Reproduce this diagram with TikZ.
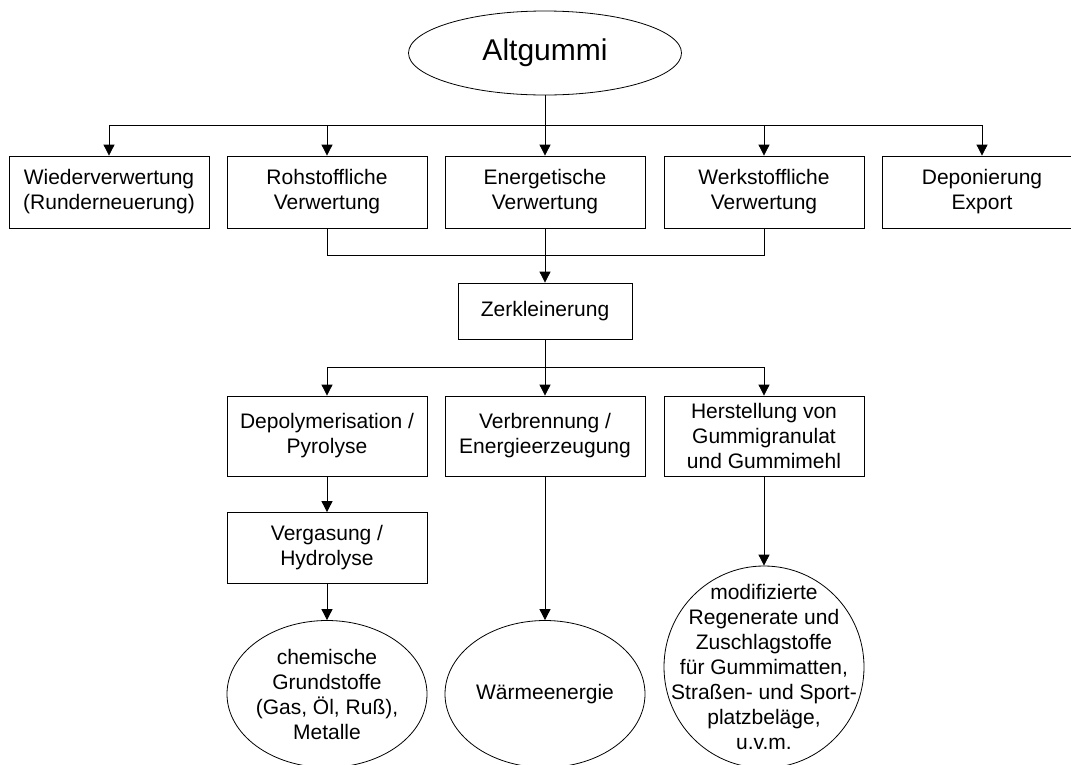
\documentclass[tikz,border=0pt]{standalone}
\usepackage{fontspec}
\setmainfont{Liberation Sans}
\usetikzlibrary{shapes.geometric,arrows.meta}

\begin{document}
\begin{tikzpicture}[x=1pt, y=-1pt, line width=0.8pt, line join=miter,
    every node/.style={font=\fontsize{21}{25}\selectfont},
    box/.style={draw, rectangle, align=center, minimum width=200pt, inner sep=0pt},
    oval/.style={draw, ellipse, minimum width=200pt, inner sep=0pt},
    arr/.style={-{Triangle[length=11pt, width=11pt]}}]
  \useasboundingbox (0,0) rectangle (1071,764);

  % Ebene 1
  \node[draw, ellipse, minimum width=273pt, minimum height=84pt,
        font=\fontsize{30}{36}\selectfont] (alt) at (545,53) {Altgummi};

  \node[box, minimum height=72pt] (wieder) at (109,192) {Wiederverwertung\\(Runderneuerung)};
  \node[box, minimum height=72pt] (rohst)  at (327,192) {Rohstoffliche\\Verwertung};
  \node[box, minimum height=72pt] (energ)  at (545,192) {Energetische\\Verwertung};
  \node[box, minimum height=72pt] (werkst) at (764,192) {Werkstoffliche\\Verwertung};
  \node[box, minimum height=72pt] (depon)  at (982,192) {Deponierung\\Export};

  \coordinate (split1) at (545,125);
  \draw[arr] (alt) -- (energ);
  \draw[arr] (split1) -| (wieder);
  \draw[arr] (split1) -| (rohst);
  \draw[arr] (split1) -| (werkst);
  \draw[arr] (split1) -| (depon);

  % Zerkleinerung
  \node[box, minimum width=174pt, minimum height=56pt] (zerkl) at (545,311) {Zerkleinerung};

  \coordinate (merge) at (545,255);
  \draw (rohst) |- (merge);
  \draw (werkst) |- (merge);
  \draw[arr] (energ) -- (zerkl);

  % Ebene 2
  \node[box, minimum height=80pt] (depoly) at (327,436) {Depolymerisation /\\Pyrolyse};
  \node[box, minimum height=80pt] (verbr)  at (545,436) {Verbrennung /\\Energieerzeugung};
  \node[box, minimum height=80pt] (herst)  at (764,436) {Herstellung von\\Gummigranulat\\und Gummimehl};

  \coordinate (split2) at (545,367);
  \draw[arr] (zerkl) -- (verbr);
  \draw[arr] (split2) -| (depoly);
  \draw[arr] (split2) -| (herst);

  \node[box, minimum height=71pt] (verg) at (327,548) {Vergasung /\\Hydrolyse};

  % Produkte
  \node[oval, minimum height=147pt,
        label={[align=center]center:chemische\\Grundstoffe\\(Gas, Öl, Ruß),\\Metalle}] (chem) at (327,694) {};
  \node[oval, minimum height=147pt,
        label={[align=center]center:Wärmeenergie}] (waerme) at (545,694) {};
  \node[oval, minimum height=202pt,
        label={[align=center]center:modifizierte\\Regenerate und\\Zuschlagstoffe\\für Gummimatten,\\Straßen- und Sport-\\platzbeläge,\\u.v.m.}] (modif) at (764,667) {};

  \draw[arr] (depoly) -- (verg);
  \draw[arr] (verg) -- (chem);
  \draw[arr] (verbr) -- (waerme);
  \draw[arr] (herst) -- (modif);
\end{tikzpicture}
\end{document}
